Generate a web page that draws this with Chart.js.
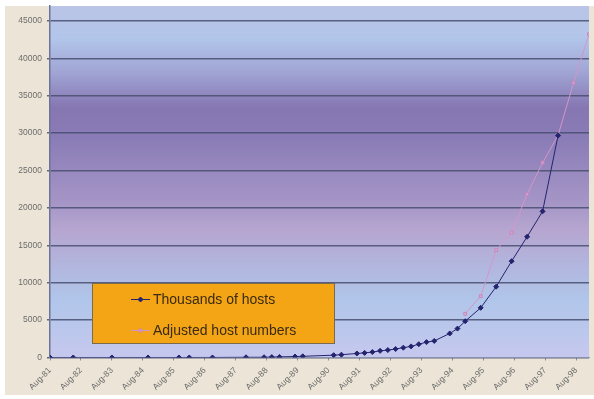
<!DOCTYPE html>
<html>
<head>
<meta charset="utf-8">
<script src="https://cdn.jsdelivr.net/npm/chart.js@4/dist/chart.umd.min.js"></script>
<style>
  html, body { margin: 0; padding: 0; background: #ffffff; }
  canvas { display: block; }
</style>
</head>
<body>
<canvas id="hosts" width="594" height="399"></canvas>
<script>
// Internet host survey dates and counts (thousands of hosts)
const hostDates = [
  'Aug-81', 'May-82', 'Aug-83', 'Oct-84', 'Oct-85', 'Feb-86', 'Nov-86', 'Dec-87',
  'Jul-88', 'Oct-88', 'Jan-89', 'Jul-89', 'Oct-89', 'Oct-90', 'Jan-91', 'Jul-91',
  'Oct-91', 'Jan-92', 'Apr-92', 'Jul-92', 'Oct-92', 'Jan-93', 'Apr-93', 'Jul-93',
  'Oct-93', 'Jan-94', 'Jul-94', 'Oct-94', 'Jan-95', 'Jul-95', 'Jan-96', 'Jul-96',
  'Jan-97', 'Jul-97', 'Jan-98'
];
const hostThousands = [
  0.213, 0.235, 0.562, 1.024, 1.961, 2.308, 5.089, 28.174,
  33, 56, 80, 130, 159, 313, 376, 535,
  617, 727, 890, 992, 1136, 1313, 1486, 1776,
  2056, 2217, 3212, 3864, 4852, 6642, 9472, 12881,
  16146, 19540, 29670
];

// Counts re-estimated with the newer survey method
const adjustedDates = [
  'Jan-95', 'Jul-95', 'Jan-96', 'Jul-96', 'Jan-97', 'Jul-97', 'Jan-98', 'Jul-98', 'Jan-99'
];
const adjustedThousands = [
  5846, 8200, 14352, 16729, 21819, 26053, 29670, 36739, 43230
];

// Axis labels
const xTickLabels = [
  'Aug-81', 'Aug-82', 'Aug-83', 'Aug-84', 'Aug-85', 'Aug-86', 'Aug-87', 'Aug-88', 'Aug-89',
  'Aug-90', 'Aug-91', 'Aug-92', 'Aug-93', 'Aug-94', 'Aug-95', 'Aug-96', 'Aug-97', 'Aug-98'
];
const yTickValues = [0, 5000, 10000, 15000, 20000, 25000, 30000, 35000, 40000, 45000];

const seriesNames = ['Thousands of hosts', 'Adjusted host numbers'];

// Month offset from Aug-81 for a "Mon-YY" date string
const MONTHS = ['Jan','Feb','Mar','Apr','May','Jun','Jul','Aug','Sep','Oct','Nov','Dec'];
function monthIndex(label) {
  const [m, y] = label.split('-');
  return (1900 + Number(y) - 1981) * 12 + MONTHS.indexOf(m) - 7;
}
function toPoints(dates, values) {
  return dates.map((d, i) => ({ x: monthIndex(d), y: values[i] }));
}

const xMin = monthIndex('Aug-81');
const xMax = monthIndex('Jan-99');

// Page backdrop and gradient plot area
const backdrop = {
  id: 'backdrop',
  beforeDraw(chart) {
    const { ctx, chartArea: a } = chart;
    ctx.save();
    ctx.fillStyle = '#ffffff';
    ctx.fillRect(0, 0, chart.width, chart.height);
    ctx.fillStyle = '#ece5d7';
    ctx.fillRect(5, 6, chart.width - 5, chart.height - 10);
    const g = ctx.createLinearGradient(0, a.top, 0, a.bottom);
    g.addColorStop(0.00, '#bac4e6');
    g.addColorStop(0.09, '#b2c6ea');
    g.addColorStop(0.19, '#a0a4d4');
    g.addColorStop(0.29, '#8676b2');
    g.addColorStop(0.38, '#8a7cb6');
    g.addColorStop(0.55, '#a494c6');
    g.addColorStop(0.64, '#b6a6d0');
    g.addColorStop(0.74, '#b2b6de');
    g.addColorStop(0.84, '#b0c6ea');
    g.addColorStop(1.00, '#c6c8ee');
    ctx.fillStyle = g;
    ctx.fillRect(a.left, a.top, a.right - a.left, a.bottom - a.top);
    ctx.restore();
  }
};

// Orange legend box inside the plot
const legendBox = {
  id: 'legendBox',
  afterDatasetsDraw(chart) {
    const { ctx } = chart;
    const box = { x: 92, y: 283, w: 243, h: 61 };
    ctx.save();
    ctx.fillStyle = '#f3a516';
    ctx.fillRect(box.x, box.y, box.w, box.h);
    ctx.strokeStyle = '#7c6a4c';
    ctx.lineWidth = 1;
    ctx.strokeRect(box.x + 0.5, box.y + 0.5, box.w - 1, box.h - 1);
    const rows = [299, 330];
    chart.data.datasets.forEach((ds, i) => {
      const y = rows[i];
      ctx.strokeStyle = ds.borderColor;
      ctx.lineWidth = 1;
      ctx.beginPath();
      ctx.moveTo(131, y + 0.5);
      ctx.lineTo(150, y + 0.5);
      ctx.stroke();
      ctx.fillStyle = ds.pointBackgroundColor;
      ctx.strokeStyle = ds.pointBorderColor;
      Chart.helpers.drawPoint(ctx, {
        pointStyle: ds.pointStyle,
        radius: ds.pointRadius,
        borderWidth: 1
      }, 140.5, y + 0.5);
      ctx.fillStyle = '#3a2a12';
      ctx.font = '14px "Liberation Sans", Arial, sans-serif';
      ctx.textBaseline = 'middle';
      ctx.fillText(seriesNames[i], 153, y + 1);
    });
    ctx.restore();
  }
};

new Chart(document.getElementById('hosts'), {
  type: 'line',
  data: {
    datasets: [
      {
        label: seriesNames[0],
        data: toPoints(hostDates, hostThousands),
        borderColor: '#24246e',
        borderWidth: 1,
        pointStyle: 'rectRot',
        pointRadius: 2.5,
        pointBackgroundColor: '#24246e',
        pointBorderColor: '#24246e',
        pointBorderWidth: 1,
        tension: 0
      },
      {
        label: seriesNames[1],
        data: toPoints(adjustedDates, adjustedThousands),
        borderColor: '#d396c8',
        borderWidth: 1,
        pointStyle: 'rect',
        pointRadius: 2,
        pointBackgroundColor: 'rgba(226,170,214,0.7)',
        pointBorderColor: '#c886bc',
        pointBorderWidth: 1,
        tension: 0
      }
    ]
  },
  options: {
    responsive: false,
    animation: false,
    devicePixelRatio: 1,
    layout: { padding: { top: 6, right: 2, left: 0, bottom: 0 } },
    plugins: { legend: { display: false }, tooltip: { enabled: false } },
    scales: {
      x: {
        type: 'linear',
        min: xMin,
        max: xMax,
        afterFit(scale) {
          scale.height = 41.5;
          scale.paddingLeft = 0;
          scale.paddingRight = 0;
        },
        ticks: {
          stepSize: 12,
          includeBounds: false,
          autoSkip: false,
          minRotation: 45,
          maxRotation: 45,
          padding: 5,
          color: '#6c6c6c',
          font: { family: '"Liberation Sans", Arial, sans-serif', size: 8.5 },
          callback: (v) => xTickLabels[Math.round(v / 12)] ?? ''
        },
        grid: { drawOnChartArea: false, drawTicks: true, tickLength: 3, color: '#8a90aa' },
        border: { color: '#8a90b0', width: 1 }
      },
      y: {
        min: 0,
        max: 47000,
        afterFit(scale) {
          scale.width = 50;
          scale.paddingTop = 0;
          scale.paddingBottom = 0;
        },
        afterBuildTicks(scale) {
          scale.ticks = yTickValues.map(v => ({ value: v }));
        },
        ticks: {
          padding: 5,
          color: '#6c6c6c',
          font: { family: '"Liberation Sans", Arial, sans-serif', size: 8.5 },
          callback: (v) => String(v)
        },
        grid: { color: 'rgba(72,78,112,0.85)', lineWidth: 1.5, tickLength: 3 },
        border: { color: '#6e7496', width: 1.5 }
      }
    }
  },
  plugins: [backdrop, legendBox]
});
</script>
</body>
</html>
